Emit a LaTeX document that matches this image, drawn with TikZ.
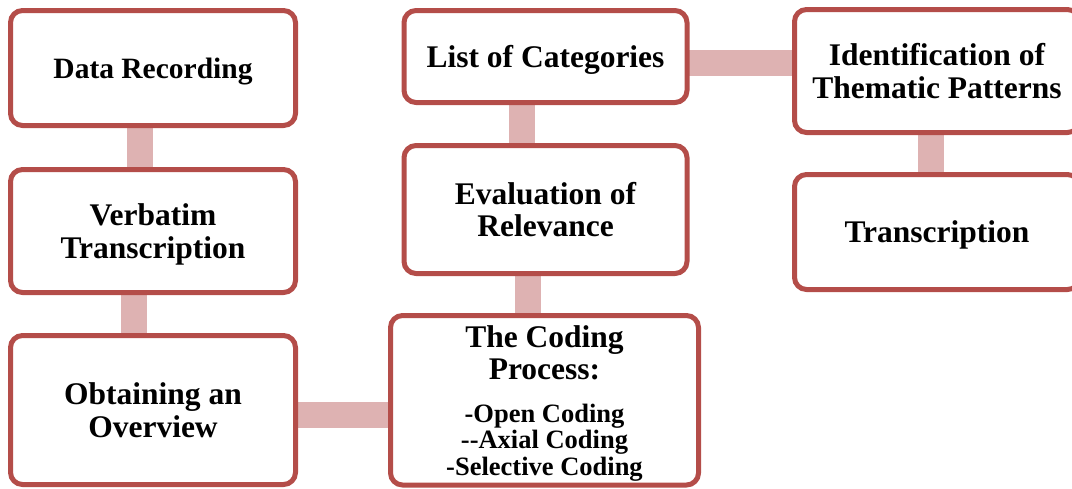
\documentclass[tikz,border=0pt]{standalone}
\usepackage{fontspec}
\setmainfont{Liberation Serif}
\usepackage{tikz}
\usetikzlibrary{calc,positioning,backgrounds}
\definecolor{boxred}{RGB}{180,77,73}
\definecolor{linkpink}{RGB}{222,178,178}

\begin{document}
\begin{tikzpicture}[x=1pt,y=-1pt,line join=round,
  box/.style={draw=boxred,line width=5pt,fill=white,rounded corners=12pt,inner sep=0pt,outer sep=0pt,align=center,
    text depth=0pt,font=\bfseries\fontsize{31.5}{32.5}\selectfont},
  link/.style={draw=linkpink,line width=26pt,line cap=butt}]
\clip (0,0) rectangle (1072,488);
\node[box,minimum width=285,minimum height=115,font=\bfseries\fontsize{29.5}{30.5}\selectfont] (dat) at (153,68) {Data Recording};
\node[box,minimum width=285,minimum height=123] (verb) at (153,231) {Verbatim\\Transcription};
\node[box,minimum width=285,minimum height=149] (over) at (153,410) {Obtaining an\\Overview};
\node[box,minimum width=283,minimum height=92] (list) at (545.5,56.5) {List of Categories};
\node[box,minimum width=283,minimum height=128] (eval) at (545.5,209.5) {Evaluation of\\Relevance};
\node[box,minimum width=308,minimum height=169.5] (code) at (544.5,400.25) {The Coding\\Process:\\[10pt]
  {\fontsize{26.5}{26.5}\selectfont -Open Coding}\\[-6pt]
  {\fontsize{26.5}{26.5}\selectfont -{}-Axial Coding}\\[-6pt]
  {\fontsize{26.5}{26.5}\selectfont -Selective Coding}};
\node[box,minimum width=285,minimum height=123] (theme) at (937,71) {Identification of\\Thematic Patterns};
\node[box,minimum width=285,minimum height=115] (trans) at (937,232) {Transcription};
\begin{scope}[on background layer]
\foreach \a/\b/\d in {dat/verb/-13,verb/over/-19,list/eval/-23.5,eval/code/-17.5,theme/trans/-6}
  {\draw[link]([xshift=\d pt]\a.south)--([xshift=\d pt]\a.south |- \b.north);}
\foreach \a/\b/\d in {over/code/-5,list/theme/-6}
  {\draw[link]([yshift=\d pt]\a.east)--([yshift=\d pt]\a.east -| \b.west);}
\end{scope}
\end{tikzpicture}
\end{document}
